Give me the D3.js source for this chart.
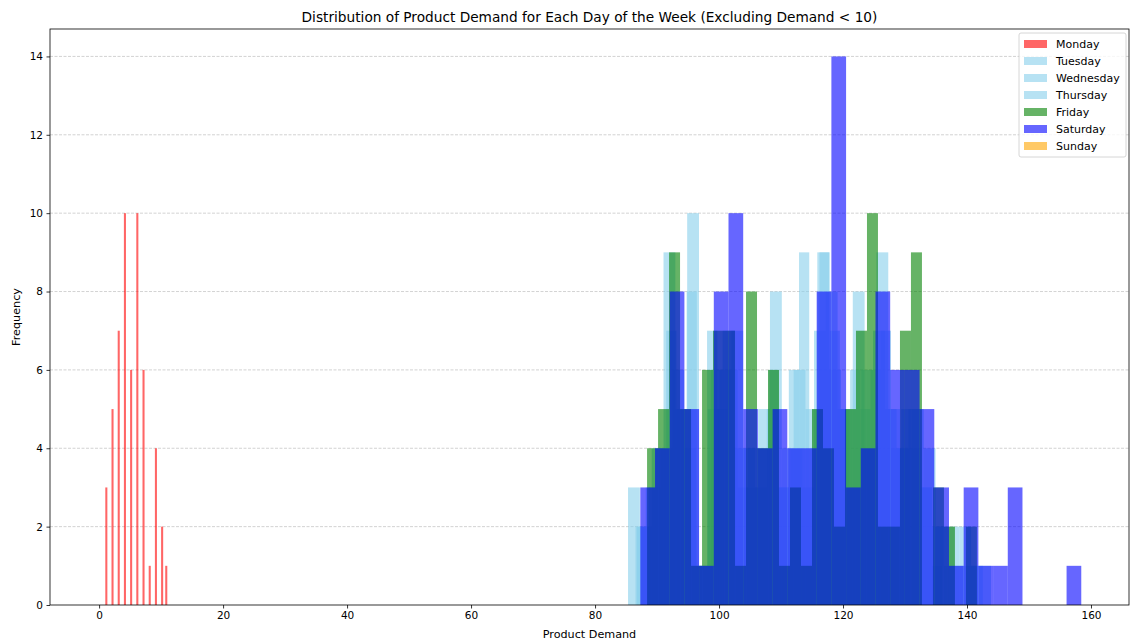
<!DOCTYPE html>
<html><head><meta charset="utf-8">
<script src="https://cdn.jsdelivr.net/npm/d3@7"></script>
<style>body{margin:0;background:#fff;} text{font-family:"DejaVu Sans",sans-serif;fill:#000;}</style>
</head><body><svg id="chart" width="1130" height="643"></svg>
<script>
// ---- data (histogram counts per bin, 30 bins per day) ----
const days = ["Monday","Tuesday","Wednesday","Thursday","Friday","Saturday","Sunday"];
const dayColors = ["red","skyblue","skyblue","skyblue","green","blue","orange"];
const binStart = [1, 85.32, 86.53, 86.77, 88.39, 87.3, 0];
const binEnd   = [11, 142.56, 135.98, 143.87, 141.6, 158.43, 0];
const mondayCounts    = [3,0,0,5,0,0,7,0,0,10,0,0,6,0,0,10,0,0,6,0,0,1,0,0,4,0,0,2,0,1];
const tuesdayCounts   = [3,2,4,9,5,10,1,6,7,4,3,5,8,4,6,5,9,6,5,8,4,9,5,4,5,4,2,2,2,1];
const wednesdayCounts = [2,3,4,7,5,8,1,7,5,6,3,4,4,6,3,6,9,4,9,7,5,6,5,6,7,4,5,4,3,1];
const thursdayCounts  = [2,3,4,6,4,1,5,6,7,4,3,5,3,4,3,7,8,5,3,6,7,5,4,5,3,2,1,1,1,1];
const fridayCounts    = [4,5,9,5,1,6,7,7,1,8,4,6,1,3,1,5,4,2,5,7,10,2,2,7,9,0,3,2,0,2];
const saturdayCounts  = [3,4,8,5,1,8,10,5,4,5,4,4,8,14,3,4,8,6,6,5,3,1,3,1,1,3,0,0,0,1];
const sundayCounts    = [];
const xTicks = [0,20,40,60,80,100,120,140,160];
const yTicks = [0,2,4,6,8,10,12,14];

const allCounts = [mondayCounts,tuesdayCounts,wednesdayCounts,thursdayCounts,fridayCounts,saturdayCounts,sundayCounts];

const svg = d3.select("#chart");
const L = 50, R = 1129, T = 29, B = 605;
const x = d3.scaleLinear().domain([-7.92, 166.13]).range([L, R]);
const y = d3.scaleLinear().domain([0, 14.7]).range([B, T]);

// grid
svg.append("g").selectAll("line").data(yTicks.filter(d=>d>0)).join("line")
  .attr("x1", L).attr("x2", R).attr("y1", d=>y(d)).attr("y2", d=>y(d))
  .attr("stroke", "#b0b0b0").attr("stroke-opacity", 0.7).attr("stroke-width", 0.8)
  .attr("stroke-dasharray", "3,1.5");

// bars
allCounts.forEach((counts, i) => {
  if (!counts.length) return;
  const w = (binEnd[i] - binStart[i]) / counts.length;
  const bins = counts.map((c, k) => ({x0: binStart[i] + k*w, x1: binStart[i] + (k+1)*w, c}));
  svg.append("g").selectAll("rect").data(bins.filter(b=>b.c>0)).join("rect")
    .attr("x", b => x(b.x0)).attr("width", b => x(b.x1) - x(b.x0))
    .attr("y", b => y(b.c)).attr("height", b => y(0) - y(b.c))
    .attr("fill", dayColors[i]).attr("fill-opacity", 0.6);
});

// axes
const xAxis = d3.axisBottom(x).tickValues(xTicks).tickSize(3.5).tickPadding(3.5);
const gx = svg.append("g").attr("transform", `translate(0,${B})`).call(xAxis);
const yAxis = d3.axisLeft(y).tickValues(yTicks).tickSize(3.5).tickPadding(3.5);
const gy = svg.append("g").attr("transform", `translate(${L},0)`).call(yAxis);
[gx, gy].forEach(g => {
  g.select(".domain").remove();
  g.selectAll("text").attr("font-size", 10.5).style("font-family", '"DejaVu Sans",sans-serif');
  g.selectAll("line").attr("stroke", "#000").attr("stroke-width", 0.8);
});
// frame
svg.append("rect").attr("x", L).attr("y", T).attr("width", R-L).attr("height", B-T)
  .attr("fill", "none").attr("stroke", "#000").attr("stroke-width", 0.8);

// title & labels
svg.append("text").attr("x", (L+R)/2).attr("y", 22).attr("text-anchor", "middle")
  .attr("font-size", 13.7).text("Distribution of Product Demand for Each Day of the Week (Excluding Demand < 10)");
svg.append("text").attr("x", (L+R)/2).attr("y", 638).attr("text-anchor", "middle")
  .attr("font-size", 11.2).text("Product Demand");
svg.append("text").attr("transform", `translate(20,${(T+B)/2}) rotate(-90)`).attr("text-anchor", "middle")
  .attr("font-size", 11.2).text("Frequency");

// legend
const lg = svg.append("g").attr("transform", "translate(1019,33)");
lg.append("rect").attr("width", 107).attr("height", 124).attr("rx", 2)
  .attr("fill", "#fff").attr("fill-opacity", 0.8).attr("stroke", "#ccc").attr("stroke-width", 0.8);
days.forEach((d, i) => {
  const row = lg.append("g").attr("transform", `translate(0,${11 + i*17})`);
  row.append("rect").attr("x", 5).attr("y", -4).attr("width", 23).attr("height", 8)
    .attr("fill", dayColors[i]).attr("fill-opacity", 0.6);
  row.append("text").attr("x", 37).attr("y", 4).attr("font-size", 11).text(d);
});
</script></body></html>
